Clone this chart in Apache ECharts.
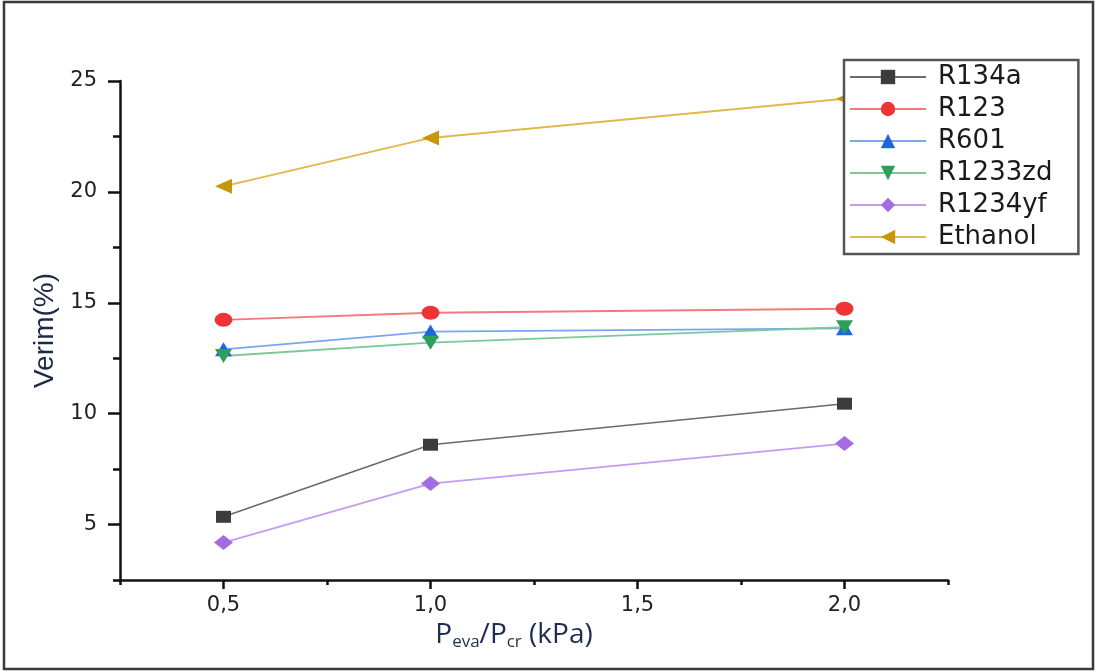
<!DOCTYPE html>
<html>
<head>
<meta charset="utf-8">
<script src="https://cdn.jsdelivr.net/npm/echarts@6/dist/echarts.min.js"></script>
<style>html,body{margin:0;padding:0;background:#fff;}#c{width:1096px;height:672px;}</style>
</head>
<body>
<div id="c"></div>
<script>
const xValues = [0.5, 1.0, 2.0];
const seriesNames = ['R134a', 'R123', 'R601', 'R1233zd', 'R1234yf', 'Ethanol'];
const r134a = [5.35, 8.6, 10.45];
const r123 = [14.23, 14.55, 14.73];
const r601 = [12.9, 13.7, 13.85];
const r1233zd = [12.6, 13.2, 13.9];
const r1234yf = [4.19, 6.85, 8.65];
const ethanol = [20.25, 22.43, 24.2];
const xMajorTicks = [0.5, 1.0, 1.5, 2.0];
const xMinorTicks = [0.25, 0.75, 1.25, 1.75, 2.25];
const yMajorTicks = [5, 10, 15, 20, 25];
const yMinorTicks = [2.5, 7.5, 12.5, 17.5, 22.5];

const pairs = vals => xValues.map((x, i) => [x, vals[i]]);

function mk(name, vals, symbol, size, rot, markerColor, lineColor, lw) {
  return {
    name: name, type: 'line', data: pairs(vals),
    symbol: symbol, symbolSize: size, symbolRotate: rot,
    itemStyle: { color: markerColor },
    lineStyle: { color: lineColor, width: lw },
    emphasis: { disabled: true }
  };
}

const chart = echarts.init(document.getElementById('c'), null, { renderer: 'canvas' });
const tickStyle = { color: '#111', width: 2.5 };
chart.setOption({
  animation: false,
  backgroundColor: '#fff',
  graphic: [{
    type: 'rect', shape: { x: 4, y: 2, width: 1089, height: 667 },
    style: { fill: 'none', stroke: '#3a3a3a', lineWidth: 2.5 }, z: 10
  }],
  grid: { left: 120, right: 148, top: 81, bottom: 92 },
  legend: {
    orient: 'vertical', left: 844, top: 60,
    data: seriesNames,
    itemWidth: 76, itemHeight: 18, itemGap: 0,
    padding: [1, 26, 1, 5],
    backgroundColor: '#fff', borderColor: '#555', borderWidth: 2.5,
    textStyle: { fontFamily: 'DejaVu Sans', fontSize: 26, color: '#1a1a1a', lineHeight: 32, padding: [0, 0, 0, 7] },
    z: 8
  },
  xAxis: [{
    type: 'value', min: 0.25, max: 2.25,
    name: '{p|P}{s|eva}{p|/P}{s|cr}{p| (kPa)}',
    nameLocation: 'middle', nameGap: 36,
    nameTextStyle: {
      padding: [0, 40, 0, 0],
      rich: {
        p: { fontFamily: 'Open Sans', fontSize: 28, color: '#1f2d52' },
        s: { fontFamily: 'Open Sans', fontSize: 17, color: '#1f2d52', verticalAlign: 'bottom', padding: [14, 0, 0, 0] }
      }
    },
    axisLine: { lineStyle: { color: '#111', width: 2.5 } },
    axisTick: { show: true, customValues: xMajorTicks, length: 9, lineStyle: tickStyle },
    axisLabel: {
      customValues: xMajorTicks, margin: 15,
      fontFamily: 'DejaVu Sans', fontSize: 21, color: '#222',
      formatter: v => v.toFixed(1).replace('.', ',')
    },
    splitLine: { show: false }
  }, {
    type: 'value', min: 0.25, max: 2.25, position: 'bottom',
    axisLine: { show: false },
    axisTick: { show: true, customValues: xMinorTicks, length: 5, lineStyle: tickStyle },
    axisLabel: { show: false }, splitLine: { show: false }
  }],
  yAxis: [{
    type: 'value', min: 2.5, max: 25,
    name: 'Verim(%)', nameLocation: 'middle', nameRotate: 90, nameGap: 60,
    nameTextStyle: { fontFamily: 'Liberation Sans', fontSize: 28, color: '#1c2a48' },
    axisLine: { show: true, lineStyle: { color: '#111', width: 2.5 } },
    axisTick: { show: true, customValues: yMajorTicks, length: 12, lineStyle: tickStyle },
    axisLabel: { customValues: yMajorTicks, margin: 23, fontFamily: 'DejaVu Sans', fontSize: 21, color: '#222' },
    splitLine: { show: false }
  }, {
    type: 'value', min: 2.5, max: 25, position: 'left',
    axisLine: { show: false },
    axisTick: { show: true, customValues: yMinorTicks, length: 7, lineStyle: tickStyle },
    axisLabel: { show: false }, splitLine: { show: false }
  }],
  series: [
    mk('R134a', r134a, 'rect', [15, 12], 0, '#3c3c3c', '#6a6a6a', 1.6),
    mk('R123', r123, 'circle', [18, 14], 0, '#ee3434', '#f27a7a', 1.8),
    mk('R601', r601, 'triangle', [17, 14], 0, '#1e66dc', '#79a6ee', 1.8),
    mk('R1233zd', r1233zd, 'triangle', [17, 14], 180, '#2e9e5a', '#7cc89a', 1.8),
    mk('R1234yf', r1234yf, 'diamond', [19, 15], 0, '#a46ce0', '#c49cf0', 1.8),
    mk('Ethanol', ethanol, 'triangle', [15, 17], 90, '#c8960c', '#e0b84e', 1.8)
  ]
});
</script>
</body>
</html>
